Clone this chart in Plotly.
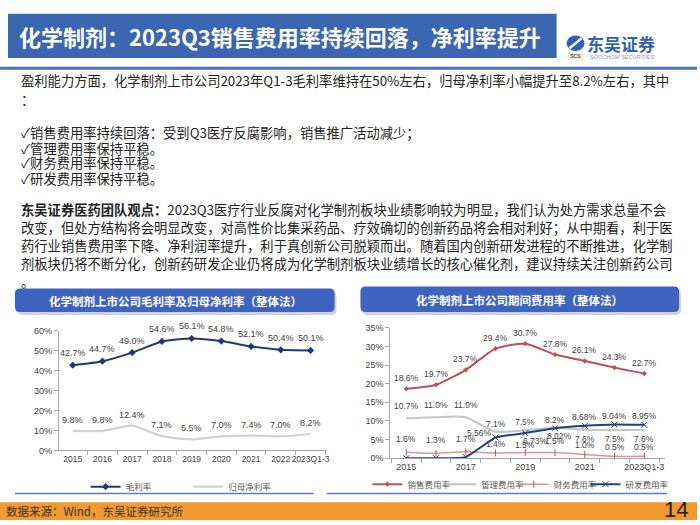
import plotly.graph_objects as go

W, H = 700, 525

# ---------------- data ----------------
years = ["2015", "2016", "2017", "2018", "2019", "2020", "2021", "2022", "2023Q1-3"]
gross_margin = [42.7, 44.7, 49.0, 54.6, 56.1, 54.8, 52.1, 50.4, 50.1]
net_margin = [9.8, 9.8, 12.4, 7.1, 5.5, 7.0, 7.4, 7.0, 8.2]
sales_exp = [18.6, 19.7, 23.7, 29.4, 30.7, 27.8, 26.1, 24.3, 22.7]
mgmt_exp = [10.7, 11.0, 11.0, 7.1, 7.5, 8.2, 7.6, 7.5, 7.6]
fin_exp = [1.6, 1.3, 1.7, 1.4, 1.5, 1.5, 1.0, 0.5, 0.5]
rd_exp = [0.0, 0.0, 0.3, 5.56, 6.73, 8.02, 8.68, 9.04, 8.95]
rd_labels = ["", "", "", "5.56%", "6.73%", "8.02%", "8.68%", "9.04%", "8.95%"]

left_ticks = [0, 10, 20, 30, 40, 50, 60]
right_ticks = [0, 5, 10, 15, 20, 25, 30, 35]

title_text = "化学制剂：2023Q3销售费用率持续回落，净利率提升"
body_lines = [
    "盈利能力方面，化学制剂上市公司2023年Q1-3毛利率维持在50%左右，归母净利率小幅提升至8.2%左右，其中",
    "：",
    "✓销售费用率持续回落：受到Q3医疗反腐影响，销售推广活动减少；",
    "✓管理费用率保持平稳。",
    "✓财务费用率保持平稳。",
    "✓研发费用率保持平稳。",
]
view_lines = [
    "<b>东吴证券医药团队观点：</b>2023Q3医疗行业反腐对化学制剂板块业绩影响较为明显，我们认为处方需求总量不会",
    "改变，但处方结构将会明显改变，对高性价比集采药品、疗效确切的创新药品将会相对利好；从中期看，利于医",
    "药行业销售费用率下降、净利润率提升，利于真创新公司脱颖而出。随着国内创新研发进程的不断推进，化学制",
    "剂板块仍将不断分化，创新药研发企业仍将成为化学制剂板块业绩增长的核心催化剂，建议持续关注创新药公司",
    "。",
]
left_title = "化学制剂上市公司毛利率及归母净利率（整体法）"
right_title = "化学制剂上市公司期间费用率（整体法）"
source_text = "数据来源：Wind，东吴证券研究所"
page_no = "14"

CJK = "Noto Sans CJK SC"
LAT = "Liberation Sans, Arial, sans-serif"


def px(x):
    return x / W


def py(y):
    return 1 - y / H


def rrect(x0, y0, x1, y1, r):
    rx, ry = r / W, r / H
    X0, X1 = px(x0), px(x1)
    Y0, Y1 = py(y0), py(y1)  # Y0 top (larger), Y1 bottom
    return (f"M {X0+rx},{Y0} L {X1-rx},{Y0} Q {X1},{Y0} {X1},{Y0-ry} "
            f"L {X1},{Y1+ry} Q {X1},{Y1} {X1-rx},{Y1} L {X0+rx},{Y1} "
            f"Q {X0},{Y1} {X0},{Y1+ry} L {X0},{Y0-ry} Q {X0},{Y0} {X0+rx},{Y0} Z")


idx = list(range(len(years)))
fig = go.Figure()

# ---------------- left chart ----------------
fig.add_trace(go.Scatter(
    x=idx, y=gross_margin, name="毛利率", mode="lines+markers",
    line=dict(color="#1F3A73", width=2, shape="spline", smoothing=0.6),
    marker=dict(symbol="diamond", size=5.5, color="#1F3A73"),
    xaxis="x", yaxis="y", legend="legend"))
fig.add_trace(go.Scatter(
    x=idx, y=net_margin, name="归母净利率", mode="lines",
    line=dict(color="#D2D2D2", width=2.2, shape="spline", smoothing=0.6),
    xaxis="x", yaxis="y", legend="legend2"))

# ---------------- right chart ----------------
fig.add_trace(go.Scatter(
    x=idx, y=sales_exp, name="销售费用率", mode="lines+markers",
    line=dict(color="#C0504D", width=2, shape="spline", smoothing=0.6),
    marker=dict(symbol="diamond", size=4, color="#C0504D"),
    xaxis="x2", yaxis="y2", legend="legend3"))
fig.add_trace(go.Scatter(
    x=idx, y=mgmt_exp, name="管理费用率", mode="lines",
    line=dict(color="#C4C4C4", width=2, shape="spline", smoothing=0.6),
    xaxis="x2", yaxis="y2", legend="legend4"))
fig.add_trace(go.Scatter(
    x=idx, y=fin_exp, name="财务费用率", mode="lines+markers",
    line=dict(color="#D99694", width=1.5, shape="spline", smoothing=0.6),
    marker=dict(symbol="line-ns-open", size=5, color="#C0504D", line=dict(width=1, color="#C0504D")),
    xaxis="x2", yaxis="y2", legend="legend5"))
fig.add_trace(go.Scatter(
    x=idx, y=rd_exp, name="研发费用率", mode="lines+markers",
    line=dict(color="#23407E", width=2, shape="spline", smoothing=0.4),
    marker=dict(symbol="x-thin-open", size=6, color="#23407E", line=dict(width=1, color="#23407E")),
    xaxis="x2", yaxis="y2", legend="legend6"))

annotations = []


def add_labels(vals, texts, xref, yref, shifts, size=9):
    for i, (v, t) in enumerate(zip(vals, texts)):
        if not t:
            continue
        dx, dy = shifts[i]
        annotations.append(dict(
            x=i, y=v, xref=xref, yref=yref, text=t, showarrow=False,
            xshift=dx, yshift=dy, font=dict(family=LAT, size=size, color="#404040")))


add_labels(gross_margin, [f"{v:.1f}%" for v in gross_margin], "x", "y", [(0, 12)] * 9)
add_labels(net_margin, [f"{v:.1f}%" for v in net_margin], "x", "y", [(0, 11)] * 9)
add_labels(sales_exp, [f"{v:.1f}%" for v in sales_exp], "x2", "y2", [(0, 11)] * 9, 8.5)
add_labels(mgmt_exp, [f"{v:.1f}%" for v in mgmt_exp], "x2", "y2",
           [(0, 12)] * 3 + [(0, 8)] * 3 + [(0, -9)] * 3, 8.5)
add_labels(fin_exp, [f"{v:.1f}%" for v in fin_exp], "x2", "y2",
           [(0, 13)] * 3 + [(0, 9), (0, 8), (0, 12), (0, 9), (0, 9), (0, 9)], 8.5)
add_labels(rd_exp, rd_labels, "x2", "y2",
           [(0, 0)] * 3 + [(-16, 4), (10, -8), (4, -8), (0, 9), (0, 9), (0, 9)], 8.5)

# ---------------- page text ----------------
annotations.append(dict(
    x=px(17), y=py(32), xref="paper", yref="paper", xanchor="left", yanchor="middle",
    text=f"<b>{title_text}</b>", showarrow=False,
    font=dict(family=CJK, size=22, color="white")))
# logo text
annotations.append(dict(
    x=px(589), y=py(39), xref="paper", yref="paper", xanchor="left", yanchor="middle",
    text="<b>东吴证券</b>", showarrow=False, borderpad=0,
    font=dict(family=CJK, size=17, color="#2F62B3")))
annotations.append(dict(
    x=px(592), y=py(53), xref="paper", yref="paper", xanchor="left", yanchor="middle",
    text="SOOCHOW SECURITIES", showarrow=False, borderpad=0,
    font=dict(family=LAT, size=5.5, color="#8A9BB8")))
annotations.append(dict(
    x=px(578), y=py(52.5), xref="paper", yref="paper", xanchor="center", yanchor="middle",
    text="<b>SCS</b>", showarrow=False, borderpad=0,
    font=dict(family=LAT, size=5, color="#2F62B3")))

body_y = [77, 96, 130, 146, 161, 177]
for t, yy in zip(body_lines, body_y):
    annotations.append(dict(
        x=px(19), y=py(yy), xref="paper", yref="paper", xanchor="left", yanchor="middle",
        text=t, showarrow=False, font=dict(family=CJK, size=13.3, color="#222222")))
view_y = [208, 226.5, 245, 263.5, 282]
for t, yy in zip(view_lines, view_y):
    annotations.append(dict(
        x=px(19), y=py(yy), xref="paper", yref="paper", xanchor="left", yanchor="middle",
        text=t, showarrow=False, font=dict(family=CJK, size=13.3, color="#222222")))

annotations.append(dict(
    x=px(176), y=py(301.5), xref="paper", yref="paper", xanchor="center", yanchor="middle",
    text=f"<b>{left_title}</b>", showarrow=False, font=dict(family=CJK, size=11.5, color="white")))
annotations.append(dict(
    x=px(522), y=py(300.5), xref="paper", yref="paper", xanchor="center", yanchor="middle",
    text=f"<b>{right_title}</b>", showarrow=False, font=dict(family=CJK, size=11.5, color="white")))

annotations.append(dict(
    x=px(5), y=py(515.5), xref="paper", yref="paper", xanchor="left", yanchor="middle",
    text=source_text, showarrow=False, borderpad=0,
    font=dict(family=CJK, size=11.5, color="#333333")))
annotations.append(dict(
    x=px(692), y=py(514), xref="paper", yref="paper", xanchor="right", yanchor="middle",
    text=page_no, showarrow=False, borderpad=0,
    font=dict(family=LAT, size=22, color="#222222")))

# ---------------- shapes ----------------
shapes = [
    # title bar
    dict(type="rect", xref="paper", yref="paper", x0=px(8), x1=px(559), y0=py(54), y1=py(9),
         fillcolor="#3B67B2", line=dict(width=0), layer="below"),
    # separator line
    dict(type="line", xref="paper", yref="paper", x0=0, x1=1, y0=py(64.5), y1=py(64.5),
         line=dict(color="#4B74BC", width=3)),
    # logo icon
    dict(type="circle", xref="paper", yref="paper", x0=px(569), x1=px(587), y0=py(47), y1=py(31),
         fillcolor="#2F62B3", line=dict(width=0)),
    dict(type="line", xref="paper", yref="paper", x0=px(572), x1=px(584), y0=py(44), y1=py(34),
         line=dict(color="white", width=2.5)),
    dict(type="rect", xref="paper", yref="paper", x0=px(570), x1=px(586), y0=py(56), y1=py(49),
         fillcolor="#F2C14E", line=dict(width=0), opacity=0.35),
    # chart title boxes (shadow + box)
    dict(type="path", xref="paper", yref="paper", path=rrect(17, 292, 338, 316, 5),
         fillcolor="rgba(120,130,150,0.35)", line=dict(width=0)),
    dict(type="path", xref="paper", yref="paper", path=rrect(15, 289, 336, 313, 5),
         fillcolor="#3F64BF", line=dict(width=0)),
    dict(type="path", xref="paper", yref="paper", path=rrect(364, 290, 684, 316, 5),
         fillcolor="rgba(120,130,150,0.35)", line=dict(width=0)),
    dict(type="path", xref="paper", yref="paper", path=rrect(362, 287, 682, 313, 5),
         fillcolor="#3F64BF", line=dict(width=0)),
    # bottom chart lines
    dict(type="line", xref="paper", yref="paper", x0=px(15), x1=px(315), y0=py(498), y1=py(498),
         line=dict(color="#5B7DBF", width=1.5)),
    dict(type="line", xref="paper", yref="paper", x0=px(328), x1=px(670), y0=py(498), y1=py(498),
         line=dict(color="#5B7DBF", width=1.5)),
    # footer
    dict(type="rect", xref="paper", yref="paper", x0=0, x1=1, y0=0, y1=py(507),
         fillcolor="#F29A30", line=dict(width=0), layer="below"),
]

axis_common = dict(showgrid=False, zeroline=False, showline=True, linecolor="#A6A6A6", linewidth=1)


def leg(xl, yc):
    return dict(orientation="h", x=px(xl), xanchor="left", y=py(yc), yanchor="middle",
                font=dict(family=CJK, size=8.5, color="#595959"), itemwidth=30,
                bgcolor="rgba(0,0,0,0)", borderwidth=0)


fig.update_layout(
    width=W, height=H, margin=dict(l=0, r=0, t=0, b=0),
    paper_bgcolor="white", plot_bgcolor="rgba(0,0,0,0)",
    showlegend=True,
    xaxis=dict(domain=[px(59), px(328)], range=[-0.47, 8.54], tickvals=idx, ticktext=years,
               tickangle=0, tickfont=dict(family=LAT, size=8.5, color="#404040"),
               ticks="", minor=dict(ticks="outside", tick0=-0.5, dtick=1, ticklen=4, tickcolor="#A6A6A6"),
               anchor="y", **axis_common),
    yaxis=dict(domain=[py(454), py(332)], range=[0, 60], tickvals=left_ticks,
               ticktext=[f"{v}%" for v in left_ticks], ticks="outside", ticklen=4, tickcolor="#A6A6A6",
               tickfont=dict(family=LAT, size=9, color="#404040"),
               anchor="x", **axis_common),
    xaxis2=dict(domain=[px(392), px(668)], range=[-0.536, 8.70], tickvals=idx[::2], ticktext=years[::2],
                tickangle=0, tickfont=dict(family=LAT, size=9, color="#404040"),
                ticks="", minor=dict(ticks="outside", tick0=-0.5, dtick=1, ticklen=4, tickcolor="#A6A6A6"),
                anchor="y2", **axis_common),
    yaxis2=dict(domain=[py(462), py(329)], range=[0, 35], tickvals=right_ticks,
                ticktext=[f"{v}%" for v in right_ticks], ticks="outside", ticklen=4, tickcolor="#A6A6A6",
                tickfont=dict(family=LAT, size=9, color="#404040"),
                anchor="x2", **axis_common),
    legend=leg(86, 491),
    legend2=leg(189, 491),
    legend3=leg(369, 488.5),
    legend4=leg(443, 488.5),
    legend5=leg(516, 488.5),
    legend6=leg(588, 488.5),
    annotations=annotations,
    shapes=shapes,
)

fig.write_html("out.html", config={"displayModeBar": False},
               post_script="document.body.style.margin='0px';")
